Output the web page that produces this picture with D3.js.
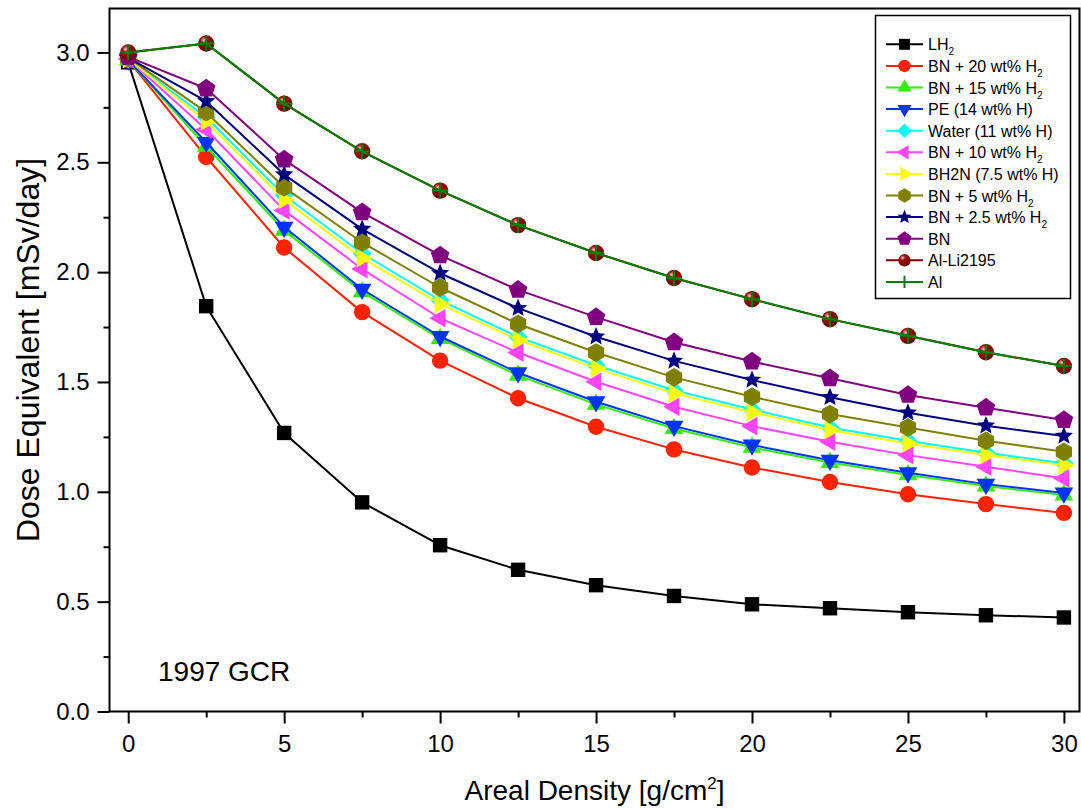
<!DOCTYPE html>
<html>
<head>
<meta charset="utf-8">
<script src="https://cdn.jsdelivr.net/npm/d3@7"></script>
<style>
  html, body { margin: 0; padding: 0; background: #fff; }
  svg { display: block; font-family: "Liberation Sans", Arial, sans-serif; }
</style>
</head>
<body>
<svg id="chart" width="1081" height="809"></svg>
<script>
// ---- Data ----
const arealDensity = [0, 2.5, 5, 7.5, 10, 12.5, 15, 17.5, 20, 22.5, 25, 27.5, 30];
const xTicks = [0, 5, 10, 15, 20, 25, 30];
const yTicks = [0.0, 0.5, 1.0, 1.5, 2.0, 2.5, 3.0];

const seriesNames = ["LH2", "BN + 20 wt% H2", "BN + 15 wt% H2", "PE (14 wt% H)", "Water (11 wt% H)",
  "BN + 10 wt% H2", "BH2N (7.5 wt% H)", "BN + 5 wt% H2", "BN + 2.5 wt% H2", "BN", "Al-Li2195", "Al"];

const lh2    = [2.955, 1.845, 1.268, 0.952, 0.757, 0.645, 0.575, 0.526, 0.488, 0.470, 0.452, 0.438, 0.428];
const bn20   = [2.965, 2.524, 2.112, 1.818, 1.597, 1.426, 1.296, 1.193, 1.111, 1.045, 0.989, 0.944, 0.904];
const bn15   = [2.965, 2.572, 2.190, 1.910, 1.697, 1.530, 1.398, 1.288, 1.202, 1.133, 1.077, 1.026, 0.985];
const pe     = [2.965, 2.591, 2.205, 1.922, 1.707, 1.542, 1.410, 1.299, 1.213, 1.144, 1.087, 1.035, 0.995];
const water  = [2.970, 2.705, 2.350, 2.085, 1.872, 1.705, 1.576, 1.462, 1.375, 1.293, 1.232, 1.178, 1.130];
const bn10   = [2.970, 2.649, 2.281, 2.014, 1.790, 1.634, 1.501, 1.387, 1.299, 1.228, 1.167, 1.114, 1.061];
const bh2n   = [2.970, 2.687, 2.330, 2.064, 1.855, 1.691, 1.562, 1.448, 1.362, 1.281, 1.220, 1.167, 1.121];
const bn5    = [2.975, 2.728, 2.386, 2.135, 1.930, 1.764, 1.634, 1.521, 1.433, 1.354, 1.293, 1.232, 1.182];
const bn25   = [2.975, 2.778, 2.444, 2.196, 1.995, 1.836, 1.706, 1.596, 1.509, 1.430, 1.360, 1.301, 1.254];
const bn     = [2.980, 2.836, 2.512, 2.272, 2.076, 1.919, 1.795, 1.681, 1.593, 1.517, 1.441, 1.383, 1.327];
const alli   = [3.000, 3.041, 2.767, 2.550, 2.371, 2.214, 2.087, 1.973, 1.877, 1.786, 1.710, 1.635, 1.573];
const al     = [3.000, 3.041, 2.767, 2.550, 2.371, 2.214, 2.087, 1.973, 1.877, 1.786, 1.710, 1.635, 1.573];

const seriesValues = [lh2, bn20, bn15, pe, water, bn10, bh2n, bn5, bn25, bn, alli, al];
const seriesColors = ["#000000", "#ff2200", "#33ee00", "#0033ff", "#00ffff", "#ff44ff",
  "#ffff00", "#808000", "#000080", "#800080", "#800000", "#008000"];
const seriesSymbols = ["square", "circle", "triUp", "triDown", "diamond", "triLeft",
  "triRight", "hexagon", "star", "pentagon", "sphere", "plus"];

// ---- Layout ----
const svg = d3.select("#chart");
const x = d3.scaleLinear().domain([-0.6, 30.5]).range([109.5, 1079.5]);
const y = d3.scaleLinear().domain([0, 3.2]).range([711.5, 8.5]);

// sphere gradient
const defs = svg.append("defs");
const grad = defs.append("radialGradient").attr("id", "sphere")
  .attr("cx", "35%").attr("cy", "30%").attr("r", "65%").attr("fx", "35%").attr("fy", "30%");
grad.append("stop").attr("offset", "0%").attr("stop-color", "#f4c8d8");
grad.append("stop").attr("offset", "30%").attr("stop-color", "#a01010");
grad.append("stop").attr("offset", "100%").attr("stop-color", "#700000");

function polyPath(n, r, rot) {
  const pts = [];
  for (let i = 0; i < n; i++) {
    const a = rot + i * 2 * Math.PI / n;
    pts.push([r * Math.cos(a), r * Math.sin(a)]);
  }
  return "M" + pts.map(p => p[0].toFixed(2) + "," + p[1].toFixed(2)).join("L") + "Z";
}
function starPath(r) {
  const pts = [];
  for (let i = 0; i < 10; i++) {
    const rr = i % 2 === 0 ? r : r * 0.45;
    const a = -Math.PI / 2 + i * Math.PI / 5;
    pts.push([rr * Math.cos(a), rr * Math.sin(a)]);
  }
  return "M" + pts.map(p => p[0].toFixed(2) + "," + p[1].toFixed(2)).join("L") + "Z";
}
// k = scale factor (1 in plot)
function drawSymbol(g, type, color, k) {
  switch (type) {
    case "square":
      g.append("rect").attr("x", -7.2 * k).attr("y", -7.2 * k).attr("width", 14.4 * k).attr("height", 14.4 * k).attr("fill", color);
      break;
    case "circle":
      g.append("circle").attr("r", 8.2 * k).attr("fill", color);
      break;
    case "triUp":
      g.append("path").attr("d", polyPath(3, 10.8 * k, -Math.PI / 2)).attr("fill", color);
      break;
    case "triDown":
      g.append("path").attr("d", polyPath(3, 10.8 * k, Math.PI / 2)).attr("fill", color);
      break;
    case "triLeft":
      g.append("path").attr("d", polyPath(3, 10.8 * k, Math.PI)).attr("fill", color);
      break;
    case "triRight":
      g.append("path").attr("d", polyPath(3, 10.8 * k, 0)).attr("fill", color);
      break;
    case "diamond":
      g.append("path").attr("d", polyPath(4, 9.5 * k, -Math.PI / 2)).attr("fill", color);
      break;
    case "hexagon":
      g.append("path").attr("d", polyPath(6, 9.4 * k, -Math.PI / 2)).attr("fill", color);
      break;
    case "pentagon":
      g.append("path").attr("d", polyPath(5, 9.8 * k, -Math.PI / 2)).attr("fill", color);
      break;
    case "star":
      g.append("path").attr("d", starPath(9.6 * k)).attr("fill", color);
      break;
    case "sphere":
      g.append("circle").attr("r", 8.2 * k).attr("fill", "url(#sphere)");
      break;
    case "plus": {
      const h = 8 * k;
      g.append("path").attr("d", `M${-h},0H${h}M0,${-h}V${h}`)
        .attr("stroke", color).attr("stroke-width", 2).attr("fill", "none");
      break;
    }
  }
}

// ---- Series ----
const line = d3.line().x((d, i) => x(arealDensity[i])).y(d => y(d));
const plotG = svg.append("g");
seriesValues.forEach((vals, si) => {
  const g = plotG.append("g");
  g.append("path").datum(vals).attr("d", line)
    .attr("fill", "none").attr("stroke", seriesColors[si]).attr("stroke-width", 2)
    .attr("stroke-linejoin", "round");
  vals.forEach((v, i) => {
    const mg = g.append("g").attr("transform", `translate(${x(arealDensity[i])},${y(v)})`);
    drawSymbol(mg, seriesSymbols[si], seriesColors[si], 1);
  });
});

// ---- Axes ----
const xAxis = d3.axisBottom(x).tickValues(xTicks).tickSize(12).tickPadding(11).tickFormat(d3.format("d"));
const xMinor = d3.axisBottom(x).tickValues(d3.range(2.5, 30, 5)).tickSize(6).tickFormat("");
const yAxis = d3.axisLeft(y).tickValues(yTicks).tickSize(12).tickPadding(8).tickFormat(d3.format(".1f"));
const yMinor = d3.axisLeft(y).tickValues(d3.range(0.25, 3.2, 0.5)).tickSize(6).tickFormat("");

function styleAxis(g, fs) {
  g.select(".domain").remove();
  g.selectAll(".tick line").attr("stroke", "#000").attr("stroke-width", 2);
  g.selectAll(".tick text").attr("fill", "#000").attr("font-size", fs)
    .attr("font-family", "'Liberation Sans', Arial, sans-serif");
}
svg.append("g").attr("transform", `translate(0,${y(0)})`).call(xAxis).call(g => styleAxis(g, 24));
svg.append("g").attr("transform", `translate(0,${y(0)})`).call(xMinor).call(g => styleAxis(g, 24));
svg.append("g").attr("transform", `translate(${x(-0.6)},0)`).call(yAxis).call(g => styleAxis(g, 24));
svg.append("g").attr("transform", `translate(${x(-0.6)},0)`).call(yMinor).call(g => styleAxis(g, 24));

// frame
svg.append("rect")
  .attr("x", x(-0.6)).attr("y", y(3.2))
  .attr("width", x(30.5) - x(-0.6)).attr("height", y(0) - y(3.2))
  .attr("fill", "none").attr("stroke", "#000").attr("stroke-width", 2);

// axis titles
const xt = svg.append("text").attr("x", (x(-0.6) + x(30.5)) / 2).attr("y", 800)
  .attr("text-anchor", "middle").attr("font-size", 28).attr("fill", "#000");
xt.append("tspan").text("Areal Density [g/cm");
xt.append("tspan").attr("dy", -11).attr("font-size", 17).text("2");
xt.append("tspan").attr("dy", 11).text("]");

svg.append("text").attr("transform", `translate(39,350) rotate(-90)`)
  .attr("text-anchor", "middle").attr("font-size", 32).attr("fill", "#000")
  .text("Dose Equivalent [mSv/day]");

svg.append("text").attr("x", 158).attr("y", 681).attr("font-size", 28).attr("fill", "#000").text("1997 GCR");

// ---- Legend ----
const legend = svg.append("g");
legend.append("rect").attr("x", 875.5).attr("y", 15.5).attr("width", 195).attr("height", 283)
  .attr("fill", "#fff").attr("stroke", "#000").attr("stroke-width", 1.5);
seriesNames.forEach((name, i) => {
  const ly = 44.3 + i * 21.6;
  const g = legend.append("g");
  g.append("line").attr("x1", 886).attr("x2", 923).attr("y1", ly).attr("y2", ly)
    .attr("stroke", seriesColors[i]).attr("stroke-width", 2);
  const mg = g.append("g").attr("transform", `translate(904.5,${ly})`);
  drawSymbol(mg, seriesSymbols[i], seriesColors[i], 0.76);
  const t = g.append("text").attr("x", 928).attr("y", ly + 6).attr("font-size", 16).attr("fill", "#000");
  if (name.endsWith("H2")) {
    t.append("tspan").text(name.slice(0, -1));
    t.append("tspan").attr("dy", 5).attr("font-size", 10).text("2");
  } else {
    t.text(name);
  }
});
</script>
</body>
</html>
